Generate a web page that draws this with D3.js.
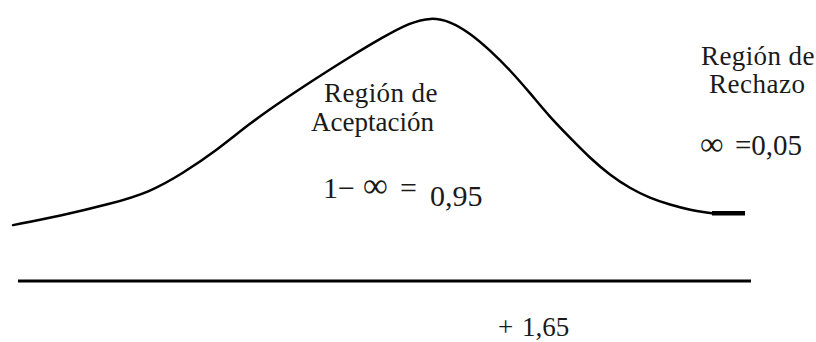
<!DOCTYPE html>
<html lang="es">
<head>
<meta charset="utf-8">
<script src="https://cdn.jsdelivr.net/npm/d3@7"></script>
</head>
<body style="margin:0">
<div id="c"></div>
<script>
// Hand drawn normal curve, one-tailed test (right tail)
// z values along the axis and the height of the curve (density)
var curveZ = [-3.041, -2.656, -2.247, -1.920, -1.649, -1.371, -1.101, -0.831, -0.553, -0.282,
              -0.012, 0.209, 0.381, 0.536, 0.700, 0.863, 1.027, 1.191, 1.355, 1.518,
              1.682, 1.846, 2.009, 2.173, 2.337, 2.501, 2.681];
var curveY = [0.085, 0.099, 0.117, 0.135, 0.164, 0.199, 0.240, 0.275, 0.309, 0.341,
              0.371, 0.393, 0.401, 0.395, 0.377, 0.351, 0.321, 0.286, 0.249, 0.218,
              0.187, 0.161, 0.141, 0.126, 0.116, 0.108, 0.103];
// little thick stroke at the end of the right tail
var tailZ = [2.681, 2.951];
var tailY = [0.103, 0.103];

var axisDomain = [-3, 3];
var criticalLabel = "1,65";
var acceptLabel = ["Región de", "Aceptación"];
var rejectLabel = ["Región de", "Rechazo"];
var acceptValue = "0,95";
var rejectValue = "0,05";

var width = 816, height = 342;

var svg = d3.select("#c").append("svg")
    .attr("width", width)
    .attr("height", height);

var x = d3.scaleLinear()
    .domain(axisDomain)
    .range([18, 751]);

var y = d3.scaleLinear()
    .domain([0, 0.4])
    .range([281, 18]);

var line = d3.line()
    .x(function(d) { return x(d[0]); })
    .y(function(d) { return y(d[1]); })
    .curve(d3.curveBasis);

// axis line
svg.append("line")
    .attr("x1", x(axisDomain[0]))
    .attr("x2", x(axisDomain[1]))
    .attr("y1", y(0))
    .attr("y2", y(0))
    .style("stroke", "#000")
    .style("stroke-width", 3);

// curve
svg.append("path")
    .attr("d", line(d3.zip(curveZ, curveY)))
    .style("fill", "none")
    .style("stroke", "#000")
    .style("stroke-width", 2.5)
    .style("stroke-linecap", "round");

svg.append("path")
    .attr("d", line(d3.zip(tailZ, tailY)))
    .style("fill", "none")
    .style("stroke", "#000")
    .style("stroke-width", 4.5);

// the numbers are kept as tspans inside the word labels so they share one serif text run
function piece(t, tx, ty, size, txt) {
  return t.append("tspan")
      .attr("x", tx).attr("y", ty)
      .style("font-size", size + "px")
      .text(txt);
}

var accept = svg.append("text")
    .style("font-family", "'Liberation Serif'")
    .style("fill", "#1a1a1a");
piece(accept, 324, 102, 27, acceptLabel[0]).style("letter-spacing", "0.4px");
piece(accept, 311, 131, 27, acceptLabel[1]);
piece(accept, 323, 198, 30, "1\u2212");
piece(accept, 363, 197, 35, "\u221e");
piece(accept, 400, 198, 30, "=");
piece(accept, 430, 206, 30, acceptValue);

var reject = svg.append("text")
    .style("font-family", "'Liberation Serif'")
    .style("fill", "#1a1a1a");
piece(reject, 701, 65, 27, rejectLabel[0]).style("letter-spacing", "0.4px");
piece(reject, 709, 93, 27, rejectLabel[1]).style("letter-spacing", "0.5px");
piece(reject, 700, 155, 33, "\u221e");
piece(reject, 735, 155, 29, "=" + rejectValue);

var critical = svg.append("text")
    .style("font-family", "'Liberation Serif'")
    .style("fill", "#1a1a1a");
piece(critical, 498, 336, 27, "+");
piece(critical, 522, 336, 27, criticalLabel);
</script>
</body>
</html>
